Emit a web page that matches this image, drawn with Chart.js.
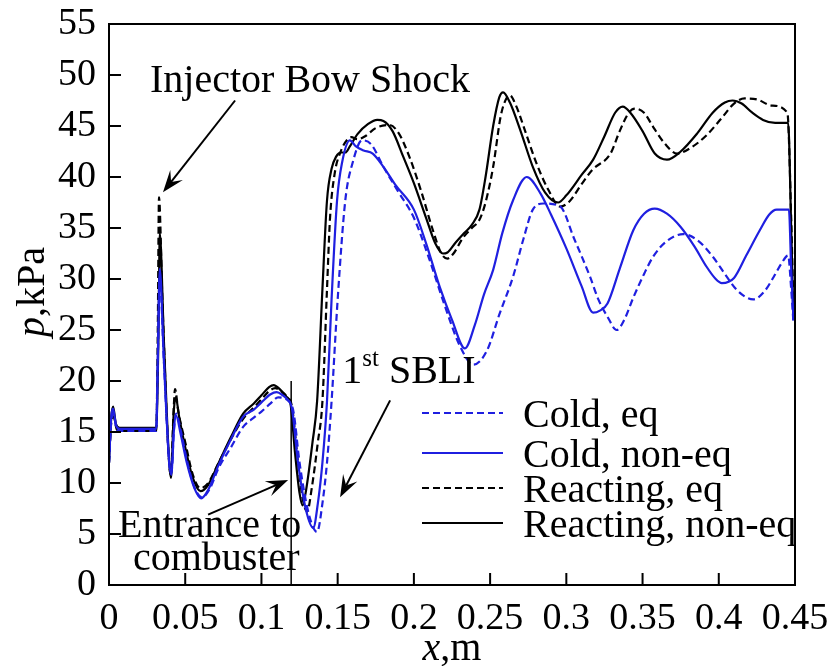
<!DOCTYPE html>
<html>
<head>
<meta charset="utf-8">
<script src="https://cdn.jsdelivr.net/npm/chart.js@4"></script>
<style>
  html, body { margin: 0; padding: 0; background: #fff; }
  #wrap { width: 832px; height: 666px; }
</style>
</head>
<body>
<div id="wrap"><canvas id="chart" width="832" height="666"></canvas></div>
<script>
// axis ticks
const xTicks = [0, 0.05, 0.1, 0.15, 0.2, 0.25, 0.3, 0.35, 0.4, 0.45];
const xTickLabels = ['0', '0.05', '0.1', '0.15', '0.2', '0.25', '0.3', '0.35', '0.4', '0.45'];
const yTicks = [0, 5, 10, 15, 20, 25, 30, 35, 40, 45, 50, 55];

// Cold, eq (blue dashed)
const coldEqX = [0, 0.0015, 0.003, 0.005, 0.007, 0.031, 0.032, 0.0333, 0.036, 0.0395, 0.041, 0.0425, 0.044, 0.047, 0.051, 0.056, 0.061, 0.066, 0.072, 0.08, 0.088, 0.095, 0.1, 0.106, 0.111, 0.115, 0.118, 0.121, 0.125, 0.131, 0.1365, 0.14, 0.143, 0.146, 0.15, 0.155, 0.16, 0.166, 0.172, 0.18, 0.19, 0.2, 0.21, 0.22, 0.23, 0.239, 0.248, 0.256, 0.265, 0.272, 0.278, 0.285, 0.296, 0.305, 0.3156, 0.321, 0.327, 0.333, 0.338, 0.344, 0.351, 0.357, 0.365, 0.3766, 0.386, 0.396, 0.404, 0.412, 0.4226, 0.43, 0.436, 0.441, 0.4455, 0.4475, 0.449];
const coldEqP = [12, 16, 16.8, 15.3, 15.1, 15.1, 22, 30, 22, 12, 11, 15, 16.8, 15.2, 12.3, 9.6, 8.6, 9.4, 11.5, 13.5, 15.5, 16.4, 17, 17.8, 18.4, 18.3, 18, 17, 12, 7, 5.2, 8, 12, 18, 28, 37.7, 41.5, 43.6, 43.2, 41, 38.5, 36, 32, 27.5, 23.5, 21.6, 23, 26.5, 30.2, 34, 36.8, 37.4, 37.1, 34, 30.2, 28, 26.3, 25, 26, 28.2, 30.5, 32.2, 33.6, 34.4, 33.8, 32.2, 30.5, 28.9, 28, 28.8, 30.2, 31.5, 32.3, 29, 25.7];

// Cold, non-eq (blue solid)
const coldNonEqX = [0, 0.0015, 0.0027, 0.0045, 0.007, 0.031, 0.032, 0.0333, 0.036, 0.0395, 0.041, 0.0425, 0.044, 0.047, 0.051, 0.056, 0.0605, 0.065, 0.072, 0.08, 0.088, 0.095, 0.1, 0.106, 0.11, 0.114, 0.117, 0.12, 0.124, 0.129, 0.134, 0.137, 0.14, 0.143, 0.146, 0.1496, 0.153, 0.158, 0.162, 0.167, 0.173, 0.18, 0.188, 0.2, 0.208, 0.217, 0.225, 0.2335, 0.24, 0.246, 0.252, 0.258, 0.265, 0.274, 0.283, 0.29, 0.3, 0.31, 0.3176, 0.322, 0.327, 0.335, 0.344, 0.351, 0.358, 0.366, 0.375, 0.384, 0.392, 0.398, 0.402, 0.41, 0.418, 0.427, 0.433, 0.438, 0.446, 0.4475, 0.449];
const coldNonEqP = [12, 16.5, 17.3, 15.7, 15.3, 15.3, 22, 31, 22, 12, 10.8, 15, 16.6, 14.8, 12, 9.5, 8.5, 9.3, 11.8, 14.3, 16.5, 17.2, 17.9, 18.7, 18.9, 18.6, 18.2, 17.3, 12, 7.5, 5.6, 8, 12, 18, 28, 37.7, 41.5, 43.6, 43, 42.6, 42.3, 41, 39.2, 36.8, 33.5, 29.2, 26, 23.2, 25.5, 28.5, 30.9, 34.5, 37.7, 40, 38.4, 36.3, 33, 29.3, 26.7, 26.9, 27.6, 31, 34.8, 36.4, 36.9, 36.4, 35.1, 33.2, 31.2, 30, 29.6, 30.1, 32.3, 34.8, 36.3, 36.8, 36.8, 31, 26];

// Reacting, eq (black dashed)
const reactEqX = [0, 0.0015, 0.003, 0.005, 0.007, 0.031, 0.032, 0.0328, 0.035, 0.039, 0.0405, 0.0425, 0.0433, 0.0455, 0.05, 0.055, 0.06, 0.065, 0.072, 0.08, 0.088, 0.095, 0.1, 0.105, 0.109, 0.113, 0.117, 0.12, 0.124, 0.127, 0.13, 0.133, 0.137, 0.14, 0.143, 0.145, 0.148, 0.152, 0.156, 0.159, 0.163, 0.168, 0.175, 0.184, 0.19, 0.197, 0.205, 0.212, 0.218, 0.222, 0.226, 0.232, 0.238, 0.243, 0.247, 0.252, 0.257, 0.261, 0.263, 0.267, 0.273, 0.28, 0.288, 0.296, 0.302, 0.31, 0.317, 0.329, 0.335, 0.341, 0.345, 0.351, 0.357, 0.365, 0.3727, 0.382, 0.392, 0.402, 0.41, 0.417, 0.425, 0.435, 0.445, 0.4475, 0.449];
const reactEqP = [12, 16, 16.5, 15.3, 15.1, 15.1, 25, 38, 28, 13, 10.8, 17.5, 19.2, 17, 14, 10.8, 9.5, 10, 12, 14.3, 16.3, 17.4, 18.2, 19, 19.3, 19, 18.4, 17.5, 12, 8.5, 7.2, 9.5, 14, 18, 29, 36, 40.3, 42.5, 43.6, 43.9, 43.7, 44, 44.8, 45.1, 44.3, 42, 38.5, 35, 32.5, 32, 32.5, 34, 35, 35.8, 37.5, 41, 46, 47.8, 48, 47, 44.5, 41.5, 38.8, 37.1, 37.6, 39.3, 40.7, 42.3, 44.5, 46.3, 46.7, 46.3, 44.9, 43.2, 42.3, 42.9, 44.1, 45.8, 47.2, 47.7, 47.6, 47, 46.3, 36, 27];

// Reacting, non-eq (black solid)
const reactNonEqX = [0, 0.0015, 0.0027, 0.0045, 0.007, 0.031, 0.0325, 0.0333, 0.036, 0.0395, 0.0407, 0.0425, 0.0438, 0.046, 0.05, 0.055, 0.06, 0.065, 0.072, 0.08, 0.088, 0.095, 0.1, 0.105, 0.108, 0.112, 0.116, 0.119, 0.122, 0.125, 0.127, 0.1295, 0.1335, 0.1365, 0.14, 0.143, 0.146, 0.149, 0.152, 0.155, 0.158, 0.163, 0.17, 0.176, 0.18, 0.186, 0.193, 0.2, 0.208, 0.214, 0.219, 0.222, 0.227, 0.233, 0.238, 0.243, 0.247, 0.252, 0.256, 0.2585, 0.263, 0.27, 0.278, 0.286, 0.2946, 0.3, 0.31, 0.3176, 0.325, 0.332, 0.337, 0.342, 0.35, 0.358, 0.366, 0.375, 0.386, 0.396, 0.404, 0.409, 0.415, 0.422, 0.429, 0.437, 0.4455, 0.4475, 0.449];
const reactNonEqP = [12, 16.5, 17.5, 15.8, 15.4, 15.4, 25, 34.5, 24, 12, 10.5, 17, 18.4, 16.5, 13.5, 10.5, 9.2, 9.8, 12, 14.5, 16.8, 17.8, 18.6, 19.4, 19.6, 19.2, 18.5, 17.8, 13, 9, 7.8, 9.5, 14, 18, 29, 37.7, 40.8, 42, 42.4, 42.4, 43, 44.2, 45.2, 45.6, 45.5, 44.5, 42, 39.4, 36, 33.5, 32.5, 32.6, 33.5, 34.5, 35.3, 36.8, 40, 45, 47.8, 48.3, 47.3, 44.5, 41, 38.5, 37.5, 38.2, 40.2, 41.7, 44, 46.3, 46.9, 46.3, 44.5, 42.3, 41.7, 42.5, 44.3, 46.3, 47.3, 47.5, 47.2, 46.3, 45.6, 45.3, 45.3, 35, 26];

// entrance to combustor marker
const entranceX = [0.1195, 0.1195];
const entranceP = [0, 20];

const BLUE = '#1f1fe0';
const FONT = '"Liberation Serif", "Times New Roman", serif';
const DASH = [7, 4];
const TXT = '40px ' + FONT;

const pts = (xs, ys) => xs.map((x, i) => ({ x: x, y: ys[i] }));

const series = [
  { label: 'Cold, eq', x: coldEqX, y: coldEqP, color: BLUE, dash: DASH },
  { label: 'Cold, non-eq', x: coldNonEqX, y: coldNonEqP, color: BLUE, dash: [] },
  { label: 'Reacting, eq', x: reactEqX, y: reactEqP, color: '#000', dash: DASH },
  { label: 'Reacting, non-eq', x: reactNonEqX, y: reactNonEqP, color: '#000', dash: [] }
];

const datasets = series.map(s => ({
  label: s.label,
  data: pts(s.x, s.y),
  borderColor: s.color,
  borderDash: s.dash,
  borderWidth: 2.2,
  pointRadius: 0,
  fill: false,
  cubicInterpolationMode: 'monotone'
}));
datasets.push({
  label: 'entrance',
  data: pts(entranceX, entranceP),
  borderColor: '#000',
  borderWidth: 1.5,
  pointRadius: 0,
  fill: false
});

function arrow(ctx, x1, y1, x2, y2) {
  const a = Math.atan2(y2 - y1, x2 - x1);
  const len = 22, w = 8;
  ctx.beginPath();
  ctx.moveTo(x1, y1);
  ctx.lineTo(x2 - Math.cos(a) * len * 0.6, y2 - Math.sin(a) * len * 0.6);
  ctx.stroke();
  ctx.beginPath();
  ctx.moveTo(x2, y2);
  ctx.lineTo(x2 - Math.cos(a) * len + Math.sin(a) * w, y2 - Math.sin(a) * len - Math.cos(a) * w);
  ctx.lineTo(x2 - Math.cos(a) * len * 0.6, y2 - Math.sin(a) * len * 0.6);
  ctx.lineTo(x2 - Math.cos(a) * len - Math.sin(a) * w, y2 - Math.sin(a) * len + Math.cos(a) * w);
  ctx.closePath();
  ctx.fill();
}

// italic variable + upright unit, centred at cx
function varLabel(ctx, v, unit, cx, y) {
  ctx.font = 'italic ' + TXT;
  const w1 = ctx.measureText(v).width;
  ctx.font = TXT;
  const w2 = ctx.measureText(unit).width;
  const x0 = cx - (w1 + w2) / 2;
  ctx.font = 'italic ' + TXT;
  ctx.fillText(v, x0, y);
  ctx.font = TXT;
  ctx.fillText(unit, x0 + w1, y);
}

// keep the plot frame where the reference has it
function noEdgePad(s) {
  s.paddingLeft = 0; s.paddingRight = 0; s.paddingTop = 0; s.paddingBottom = 0;
}

const decor = {
  id: 'decor',
  afterDraw(chart) {
    const { ctx, chartArea: ca, scales } = chart;
    const X = v => scales.x.getPixelForValue(v);
    const Y = v => scales.y.getPixelForValue(v);
    ctx.save();
    ctx.strokeStyle = '#000';
    ctx.fillStyle = '#000';
    ctx.lineWidth = 2;
    ctx.setLineDash([]);
    ctx.strokeRect(ca.left, ca.top, ca.right - ca.left, ca.bottom - ca.top);

    // inward ticks
    ctx.beginPath();
    xTicks.slice(1, -1).forEach(v => { ctx.moveTo(X(v), ca.bottom); ctx.lineTo(X(v), ca.bottom - 12); });
    yTicks.slice(1, -1).forEach(v => { ctx.moveTo(ca.left, Y(v)); ctx.lineTo(ca.left + 12, Y(v)); });
    ctx.stroke();

    // axis titles
    ctx.textAlign = 'left';
    ctx.textBaseline = 'alphabetic';
    varLabel(ctx, 'x', ',m', 452, 660);
    ctx.save();
    ctx.translate(44, 292);
    ctx.rotate(-Math.PI / 2);
    varLabel(ctx, 'p', ',kPa', 0, 0);
    ctx.restore();

    // annotations
    ctx.font = TXT;
    ctx.fillText('Injector Bow Shock', X(0.0269), Y(48.3));
    arrow(ctx, X(0.0827), Y(47.5), X(0.0354), Y(38.5));

    ctx.fillText('Entrance to', X(0.0059), Y(4.7));
    ctx.fillText('combuster', X(0.0157), Y(1.5));
    arrow(ctx, X(0.065), Y(6.9), X(0.1175), Y(10.3));

    let tx = X(0.153), ty = Y(19.8);
    ctx.fillText('1', tx, ty);
    tx += ctx.measureText('1').width;
    ctx.font = '25px ' + FONT;
    ctx.fillText('st', tx, ty - 17);
    tx += ctx.measureText('st').width;
    ctx.font = TXT;
    ctx.fillText(' SBLI', tx, ty);
    arrow(ctx, X(0.1844), Y(18.1), X(0.1516), Y(8.6));

    // legend
    const rows = [413, 453, 488, 523];
    series.forEach((s, i) => {
      ctx.strokeStyle = s.color;
      ctx.lineWidth = 2;
      ctx.setLineDash(s.dash);
      ctx.beginPath();
      ctx.moveTo(422, rows[i]);
      ctx.lineTo(503, rows[i]);
      ctx.stroke();
      ctx.setLineDash([]);
      ctx.fillStyle = '#000';
      ctx.fillText(s.label, 523, rows[i] + 14);
    });
    ctx.restore();
  }
};

new Chart(document.getElementById('chart'), {
  type: 'line',
  data: { datasets: datasets },
  options: {
    responsive: false,
    animation: false,
    layout: { padding: { top: 24, right: 37, left: 0, bottom: 0 } },
    plugins: { legend: { display: false }, tooltip: { enabled: false } },
    scales: {
      x: {
        type: 'linear',
        min: 0,
        max: 0.45,
        afterBuildTicks: s => { s.ticks = xTicks.map(v => ({ value: v })); },
        afterFit: s => { s.height = 81; noEdgePad(s); },
        grid: { display: false, drawTicks: false },
        border: { display: false },
        ticks: {
          color: '#000',
          font: { family: FONT, size: 38 },
          padding: 11,
          maxRotation: 0,
          autoSkip: false,
          callback: (v, i) => xTickLabels[i]
        }
      },
      y: {
        min: 0,
        max: 55,
        afterBuildTicks: s => { s.ticks = yTicks.map(v => ({ value: v })); },
        afterFit: s => { s.width = 109; noEdgePad(s); },
        grid: { display: false, drawTicks: false },
        border: { display: false },
        ticks: {
          color: '#000',
          font: { family: FONT, size: 38 },
          padding: 13,
          autoSkip: false,
          callback: v => String(v)
        }
      }
    }
  },
  plugins: [decor]
});
</script>
</body>
</html>
